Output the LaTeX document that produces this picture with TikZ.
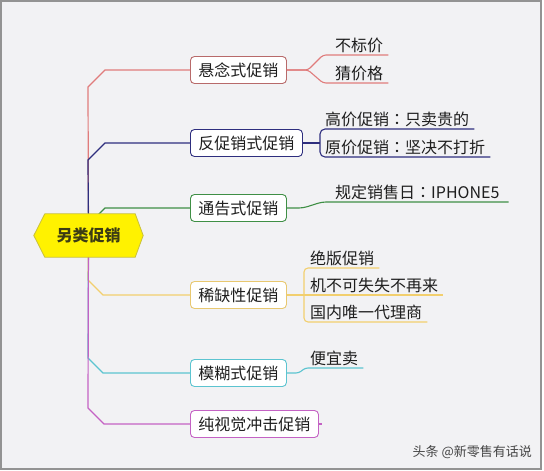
\documentclass[tikz,border=0pt]{standalone}
\usepackage{fontspec}
\setmainfont{Noto Sans CJK SC}
\newfontfamily\tcfont{Noto Sans CJK TC}
\newcommand{\ccolon}{{\tcfont ：}}
\usetikzlibrary{calc}
\definecolor{bgc}{HTML}{F2F2F4}
\definecolor{cred}{HTML}{E07C7C}
\definecolor{credb}{HTML}{B86A6A}
\definecolor{cnavy}{HTML}{2E2E7E}
\definecolor{cgreen}{HTML}{3F8F45}
\definecolor{cyel}{HTML}{F2CF6E}
\definecolor{cyelb}{HTML}{E8C870}
\definecolor{ccyan}{HTML}{5CC4D0}
\definecolor{cmag}{HTML}{C462C4}
\definecolor{hexfill}{HTML}{FFF200}
\definecolor{hexdraw}{HTML}{C9C03A}
\definecolor{hextext}{HTML}{3C3C14}
\definecolor{txt}{HTML}{1E1E1E}
\begin{document}
\begin{tikzpicture}[x=1pt,y=-1pt,
  topic/.style={draw=#1, line width=0.9pt, rounded corners=4pt, fill=white, text=txt,
    font=\fontsize{16}{19}\selectfont, inner xsep=8pt, inner ysep=0pt,
    text height=13pt, text depth=1pt, minimum height=27pt, anchor=west},
  subt/.style={font=\fontsize{16}{19}\selectfont, text=txt, anchor=base west, inner sep=0pt},
  br/.style={draw=#1, line width=1.2pt},
  sl/.style={draw=#1, line width=1.1pt, rounded corners=3pt},
]
\useasboundingbox (0,0) rectangle (544,471);
\fill[white] (0,0) rectangle (544,471);
\draw[fill=bgc, draw=gray!85, line width=1.2pt] (1,1) rectangle (541,469);

% central placeholder
\path node (c) [minimum width=109pt, minimum height=43pt, inner sep=0pt] at (88.5,235.5) {};

% main topics
\node[topic=credb] (n1) at (190,70) {悬念式促销};
\node[topic=cnavy] (n2) at (190,143) {反促销式促销};
\node[topic=cgreen] (n3) at (190,208) {通告式促销};
\node[topic=cyelb] (n4) at (190,295) {稀缺性促销};
\node[topic=ccyan] (n5) at (190,373) {模糊式促销};
\node[topic=cmag] (n6) at (190,424) {纯视觉冲击促销};

% trunk branches
\draw[br=cred] (c.center) -- (88,87) -- (105,70) -- (n1.west);
\draw[br=cnavy] (c.center) -- (88,160) -- (105,143) -- (n2.west);
\draw[br=cgreen] (c.center) -- (88,225) -- (105,208) -- (n3.west);
\draw[br=cyel] (c.center) -- (88,280) -- (103,295) -- (n4.west);
\draw[br=ccyan] (c.center) -- (88,358) -- (103,373) -- (n5.west);
\draw[br=cmag] (c.center) -- (88,408) -- (104,424) -- (n6.west);

% central topic
\filldraw[fill=hexfill, draw=hexdraw, line width=0.8pt]
  (c.west) -- ($(c.north west)+(11,0)$) -- ($(c.north east)+(-8,0)$) -- (c.east)
  -- ($(c.south east)+(-8,0)$) -- ($(c.south west)+(11,0)$) -- cycle;
\node[font=\bfseries\fontsize{16}{19}\selectfont, text=hextext] (ct) at (c) {另类促销};

% subtopics 1
\node[subt] (s11) at (335,51) {不标价};
\node[subt] (s12) at (335,79) {猜价格};
\draw[sl=cred] (n1.east) -- (308,70) -- (323,55) -- ($(s11.base east)+(5,4)$);
\draw[sl=cred] (n1.east) -- (308,70) -- (323,83) -- ($(s12.base east)+(5,4)$);

% subtopics 2
\node[subt] (s21) at (325,125) {高价促销\ccolon 只卖贵的};
\node[subt] (s22) at (325,153) {原价促销\ccolon 坚决不打折};
\coordinate (b2) at (320,143);
\draw[sl=cnavy, rounded corners=5pt] ($(s21.base east)+(5,4)$) -- (320,129) -- (320,157) -- ($(s22.base east)+(5,4)$);
\draw[sl=cnavy] (n2.east) -- (b2);

% subtopics 3
\node[subt] (s31) at (335,198) {规定销售日\ccolon IPHONE5};
\draw[sl=cgreen, rounded corners=4pt] (n3.east) -- (303,208) -- (322,202) -- ($(s31.base east)+(9,4)$);

% subtopics 4
\node[subt] (s41) at (310,264) {绝版促销};
\node[subt] (s42) at (310,291) {机不可失失不再来};
\node[subt] (s43) at (310,318) {国内唯一代理商};
\draw[sl=cyel, rounded corners=4pt] ($(s41.base east)+(5,4)$) -- (304,268) -- (304,322) -- ($(s43.base east)+(5,4)$);
\draw[sl=cyel] (n4.east) -- ($(s42.base east)+(5,4)$);

% subtopics 5
\node[subt] (s51) at (310,364) {便宜卖};
\draw[sl=ccyan] (n5.east) -- (299,373) -- (305,368) -- ($(s51.base east)+(5,4)$);

% stub 6
\coordinate (e6) at ($(n6.east)+(3,0)$);
\draw[sl=cmag] (n6.east) -- (e6);

% watermark
\node[anchor=east, font=\fontsize{13}{15}\selectfont, text=gray!55!black, inner sep=0pt] (wm) at (532,452) {头条 @新零售有话说};
\end{tikzpicture}
\end{document}
